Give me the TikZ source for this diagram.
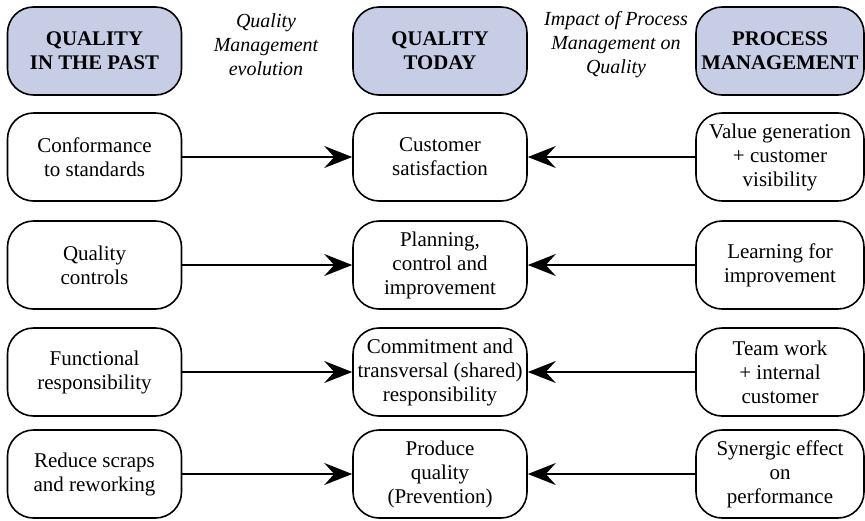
\documentclass[tikz,border=0pt]{standalone}
\usepackage{fontspec}
\setmainfont{Liberation Serif}
\usepackage{tikz}
\usetikzlibrary{arrows.meta,positioning}
\definecolor{headfill}{RGB}{200,205,230}
\tikzset{
  itembox/.style={draw, line width=0.8pt, rounded corners=13pt, minimum width=87pt,
    minimum height=44pt, align=center, inner sep=2pt, font=\fontsize{10.5}{12}\selectfont},
  headbox/.style={itembox, fill=headfill, font=\bfseries\fontsize{10.4}{12}\selectfont},
  note/.style={align=center, font=\itshape\fontsize{10}{12}\selectfont},
  link/.style={line width=1pt, -{Stealth[length=14pt,width=11pt,inset=5pt]}}
}
\begin{document}
\begin{tikzpicture}[x=0.5pt,y=-0.5pt]
\useasboundingbox (0,0) rectangle (865,520);
% column headers
\node[headbox] (past) at (94.5,51) {QUALITY\\IN THE PAST};
\node[headbox] (today) at (440,51) {QUALITY\\TODAY};
\node[headbox, minimum width=84pt] (proc) at (780,51) {PROCESS\\MANAGEMENT};
\node[note] (evol) at (266,45) {Quality\\Management\\evolution};
\node[note] (impact) at (616,45) {Impact of Process\\Management on\\Quality};
% left column
\node[itembox] (p1) at (94.5,157) {Conformance\\to standards};
\node[itembox] (p2) at (94.5,265) {Quality\\controls};
\node[itembox] (p3) at (94.5,372) {Functional\\responsibility};
\node[itembox] (p4) at (94.5,474) {Reduce scraps\\and reworking};
% middle column
\node[itembox] (t1) at (440,157) {Customer\\satisfaction};
\node[itembox] (t2) at (440,265) {Planning,\\control and\\improvement};
\node[itembox] (t3) at (440,372) {Commitment and\\transversal (shared)\\responsibility};
\node[itembox] (t4) at (440,474) {Produce\\quality\\(Prevention)};
% right column
\node[itembox, minimum width=84pt] (m1) at (780,157) {Value generation\\+ customer\\visibility};
\node[itembox, minimum width=84pt] (m2) at (780,265) {Learning for\\improvement};
\node[itembox, minimum width=84pt] (m3) at (780,372) {Team work\\+ internal\\customer};
\node[itembox, minimum width=84pt] (m4) at (780,474) {Synergic effect\\on\\performance};
% arrows
\foreach \i in {1,...,4}{
  \draw[link] (p\i) -- (t\i);
  \draw[link] (m\i) -- (t\i);
}
\end{tikzpicture}
\end{document}
